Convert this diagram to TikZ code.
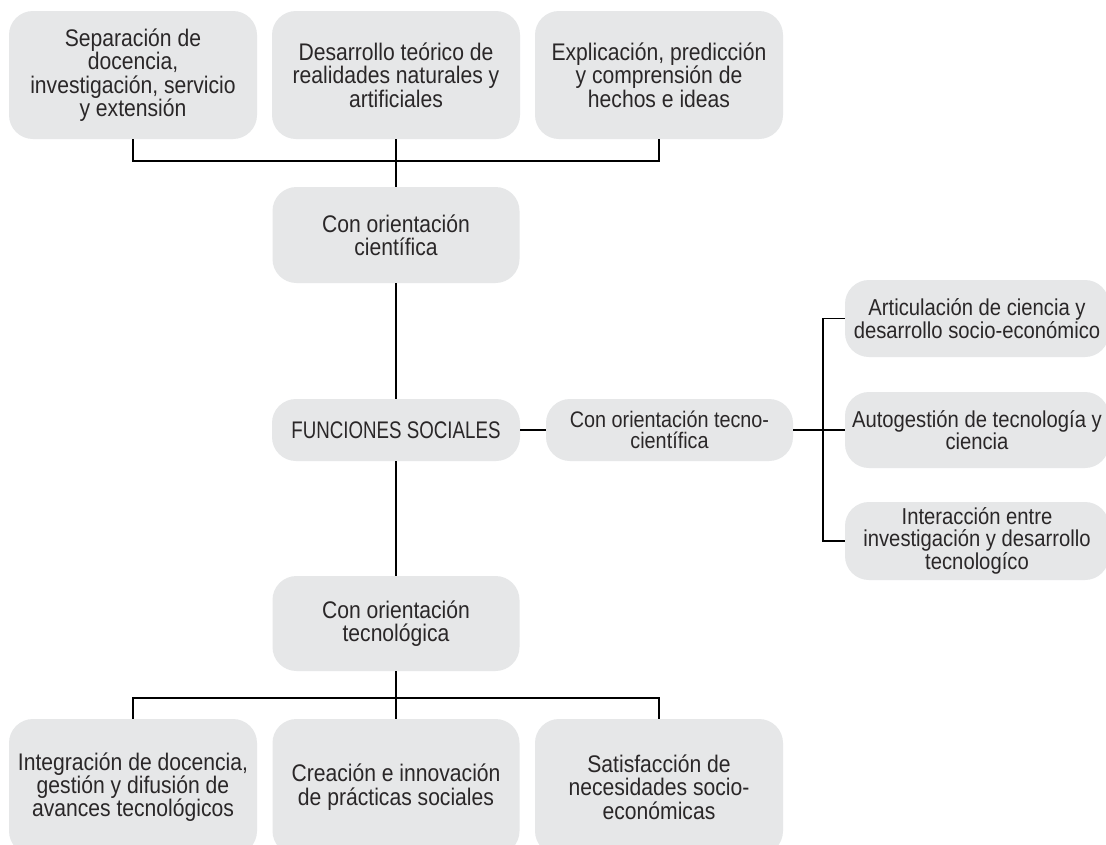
\documentclass[tikz,border=0pt]{standalone}
\usepackage{fontspec}
\setmainfont{Liberation Sans}[FakeStretch=0.88]
\newfontfamily\capsfont{Liberation Sans}[FakeStretch=0.78]
\definecolor{boxgray}{HTML}{E6E7E8}
\definecolor{txt}{HTML}{2A2728}
\tikzset{
  box/.style={fill=boxgray, rounded corners=24pt, inner sep=0pt, align=center,
    text=txt, font=\fontsize{24}{23.3}\selectfont},
  rbox/.style={box, font=\fontsize{23}{21.7}\selectfont},
  conn/.style={draw=black, line width=1.9pt}
}
\begin{document}
\begin{tikzpicture}[x=1pt,y=-1pt]
\fill[white] (0,0) rectangle (1106,844);
\useasboundingbox (0,0) rectangle (1106,844);
% top row
\node[box, minimum width=248, minimum height=128] (t1) at (133,75) {Separación de\\docencia,\\investigación, servicio\\y extensión};
\node[box, minimum width=248, minimum height=128] (t2) at (396,75) {Desarrollo teórico de\\realidades naturales y\\artificiales};
\node[box, minimum width=248, minimum height=128] (t3) at (659,75) {Explicación, predicción\\y comprensión de\\hechos e ideas};
% centre column
\node[box, minimum width=247, minimum height=96] (cc) at (396,235) {Con orientación\\científica};
\node[box, minimum width=248, minimum height=62] (fs) at (396,430) {\capsfont\fontsize{24}{24}\selectfont FUNCIONES SOCIALES};
\node[box, minimum width=247, minimum height=95] (ct) at (396,623.5) {Con orientación\\tecnológica};
% tecno-cientifica branch
\node[box, font=\fontsize{22.5}{21}\selectfont, minimum width=247, minimum height=62] (tc) at (669.5,430) {Con orientación tecno-\\científica};
\node[rbox, minimum width=264, minimum height=77] (r1) at (977,318.5) {Articulación de ciencia y\\desarrollo socio-económico};
\node[rbox, minimum width=264, minimum height=76] (r2) at (977,430) {Autogestión de tecnología y\\ciencia};
\node[rbox, minimum width=264, minimum height=78] (r3) at (977,541) {Interacción entre\\investigación y desarrollo\\tecnologíco};
% bottom row
\node[box, minimum width=248, minimum height=136] (b1) at (133,787) {Integración de docencia,\\gestión y difusión de\\avances tecnológicos};
\node[box, minimum width=247, minimum height=136] (b2) at (396,787) {Creación e innovación\\de prácticas sociales};
\node[box, minimum width=248, minimum height=136] (b3) at (659,787) {Satisfacción de\\necesidades socio-\\económicas};
% junctions
\coordinate (jt) at (396,161);
\coordinate (jb) at (396,698);
\coordinate (br) at (823,430);
% connectors
\draw[conn] (t1.south) |- (jt) -| (t3.south);
\draw[conn] (t2.south) -- (cc.north);
\draw[conn] (cc.south) -- (fs.north);
\draw[conn] (fs.south) -- (ct.north);
\draw[conn] (ct.south) -- (b2.north);
\draw[conn] (b1.north) |- (jb) -| (b3.north);
\draw[conn] (fs.east) -- (tc.west);
\draw[conn] (tc.east) -- (br) -- (r2.west);
\draw[conn] (r1.west) -| (br) |- (r3.west);
\end{tikzpicture}
\end{document}
